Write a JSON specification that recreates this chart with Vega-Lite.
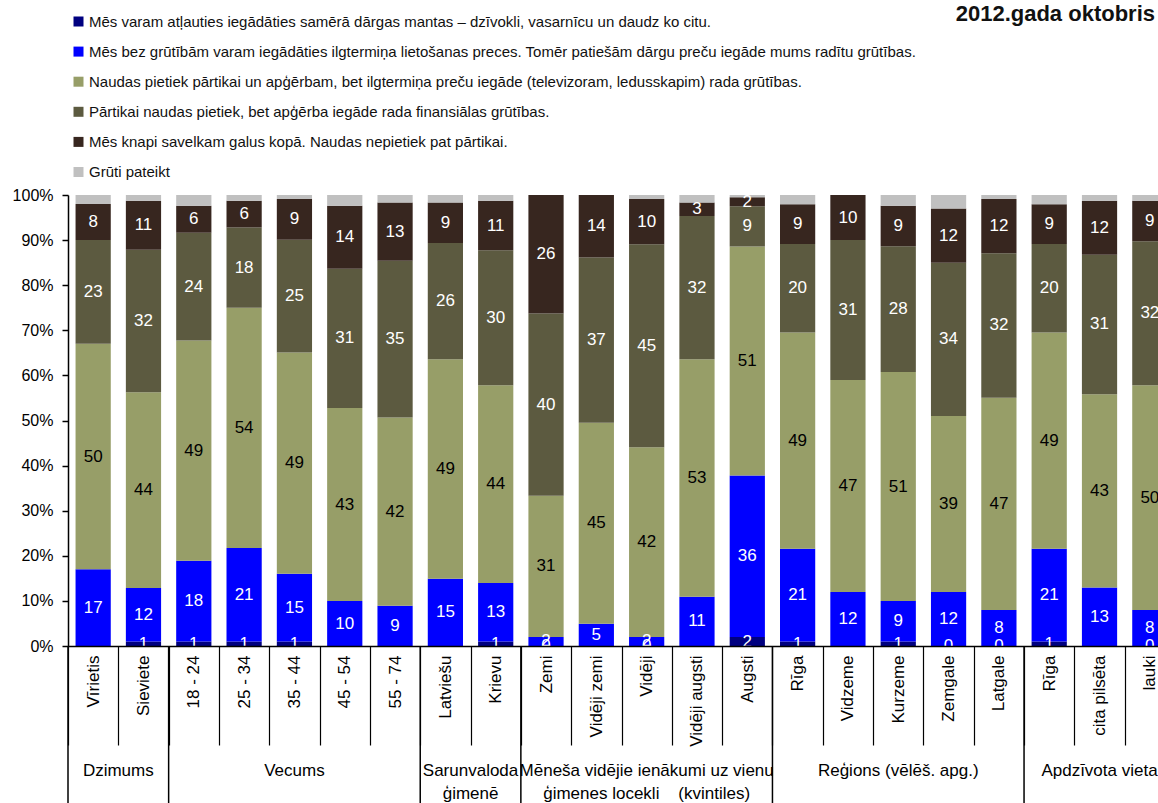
{
  "$schema": "https://vega.github.io/schema/vega-lite/v6.json",
  "width": 1090,
  "height": 451,
  "autosize": {"type": "none"},
  "padding": {"left": 68, "top": 195, "right": 0, "bottom": 157},
  "background": "#ffffff",
  "config": {
    "font": "Liberation Sans",
    "view": {"stroke": null},
    "axis": {"grid": false}
  },
  "title": {"text": "2012.gada oktobris", "orient": "top", "anchor": "end", "frame": "group", "font": "Liberation Sans", "fontSize": 22, "fontWeight": "bold", "color": "#111111", "baseline": "alphabetic", "offset": -29, "dx": -3},
  "datasets": {
    "series": [
      {"k": 1, "name": "Mēs varam atļauties iegādāties samērā dārgas mantas – dzīvokli, vasarnīcu un daudz ko citu."},
      {"k": 2, "name": "Mēs bez grūtībām varam iegādāties ilgtermiņa lietošanas preces. Tomēr patiešām dārgu preču iegāde mums radītu grūtības."},
      {"k": 3, "name": "Naudas pietiek pārtikai un apģērbam, bet ilgtermiņa preču iegāde (televizoram, ledusskapim) rada grūtības."},
      {"k": 4, "name": "Pārtikai naudas pietiek, bet apģērba iegāde rada finansiālas grūtības."},
      {"k": 5, "name": "Mēs knapi savelkam galus kopā. Naudas nepietiek pat pārtikai."},
      {"k": 6, "name": "Grūti pateikt"}
    ],
    "bars": [
      {"c": "Vīrietis", "k": 2, "v": 17}, {"c": "Vīrietis", "k": 3, "v": 50}, {"c": "Vīrietis", "k": 4, "v": 23}, {"c": "Vīrietis", "k": 5, "v": 8}, {"c": "Vīrietis", "k": 6, "v": 2},
      {"c": "Sieviete", "k": 1, "v": 1}, {"c": "Sieviete", "k": 2, "v": 12}, {"c": "Sieviete", "k": 3, "v": 44}, {"c": "Sieviete", "k": 4, "v": 32}, {"c": "Sieviete", "k": 5, "v": 11}, {"c": "Sieviete", "k": 6, "v": 1.3},
      {"c": "18 - 24", "k": 1, "v": 1}, {"c": "18 - 24", "k": 2, "v": 18}, {"c": "18 - 24", "k": 3, "v": 49}, {"c": "18 - 24", "k": 4, "v": 24}, {"c": "18 - 24", "k": 5, "v": 6}, {"c": "18 - 24", "k": 6, "v": 2.4},
      {"c": "25 - 34", "k": 1, "v": 1}, {"c": "25 - 34", "k": 2, "v": 21}, {"c": "25 - 34", "k": 3, "v": 54}, {"c": "25 - 34", "k": 4, "v": 18}, {"c": "25 - 34", "k": 5, "v": 6}, {"c": "25 - 34", "k": 6, "v": 1.3},
      {"c": "35 - 44", "k": 1, "v": 1}, {"c": "35 - 44", "k": 2, "v": 15}, {"c": "35 - 44", "k": 3, "v": 49}, {"c": "35 - 44", "k": 4, "v": 25}, {"c": "35 - 44", "k": 5, "v": 9}, {"c": "35 - 44", "k": 6, "v": 0.9},
      {"c": "45 - 54", "k": 2, "v": 10}, {"c": "45 - 54", "k": 3, "v": 43}, {"c": "45 - 54", "k": 4, "v": 31}, {"c": "45 - 54", "k": 5, "v": 14}, {"c": "45 - 54", "k": 6, "v": 2.4},
      {"c": "55 - 74", "k": 2, "v": 9}, {"c": "55 - 74", "k": 3, "v": 42}, {"c": "55 - 74", "k": 4, "v": 35}, {"c": "55 - 74", "k": 5, "v": 13}, {"c": "55 - 74", "k": 6, "v": 1.7},
      {"c": "Latviešu", "k": 2, "v": 15}, {"c": "Latviešu", "k": 3, "v": 49}, {"c": "Latviešu", "k": 4, "v": 26}, {"c": "Latviešu", "k": 5, "v": 9}, {"c": "Latviešu", "k": 6, "v": 1.7},
      {"c": "Krievu", "k": 1, "v": 1}, {"c": "Krievu", "k": 2, "v": 13}, {"c": "Krievu", "k": 3, "v": 44}, {"c": "Krievu", "k": 4, "v": 30}, {"c": "Krievu", "k": 5, "v": 11}, {"c": "Krievu", "k": 6, "v": 1.3},
      {"c": "Zemi", "k": 1, "v": 0}, {"c": "Zemi", "k": 2, "v": 2}, {"c": "Zemi", "k": 3, "v": 31}, {"c": "Zemi", "k": 4, "v": 40}, {"c": "Zemi", "k": 5, "v": 26}, {"c": "Zemi", "k": 6, "v": 0},
      {"c": "Vidēji zemi", "k": 2, "v": 5}, {"c": "Vidēji zemi", "k": 3, "v": 45}, {"c": "Vidēji zemi", "k": 4, "v": 37}, {"c": "Vidēji zemi", "k": 5, "v": 14}, {"c": "Vidēji zemi", "k": 6, "v": 0},
      {"c": "Vidēji", "k": 1, "v": 0}, {"c": "Vidēji", "k": 2, "v": 2}, {"c": "Vidēji", "k": 3, "v": 42}, {"c": "Vidēji", "k": 4, "v": 45}, {"c": "Vidēji", "k": 5, "v": 10}, {"c": "Vidēji", "k": 6, "v": 0.9},
      {"c": "Vidēji augsti", "k": 2, "v": 11}, {"c": "Vidēji augsti", "k": 3, "v": 53}, {"c": "Vidēji augsti", "k": 4, "v": 32}, {"c": "Vidēji augsti", "k": 5, "v": 3}, {"c": "Vidēji augsti", "k": 6, "v": 1.7},
      {"c": "Augsti", "k": 1, "v": 2}, {"c": "Augsti", "k": 2, "v": 36}, {"c": "Augsti", "k": 3, "v": 51}, {"c": "Augsti", "k": 4, "v": 9}, {"c": "Augsti", "k": 5, "v": 2}, {"c": "Augsti", "k": 6, "v": 0.5},
      {"c": "Rīga", "k": 1, "v": 1}, {"c": "Rīga", "k": 2, "v": 21}, {"c": "Rīga", "k": 3, "v": 49}, {"c": "Rīga", "k": 4, "v": 20}, {"c": "Rīga", "k": 5, "v": 9}, {"c": "Rīga", "k": 6, "v": 2.1},
      {"c": "Vidzeme", "k": 2, "v": 12}, {"c": "Vidzeme", "k": 3, "v": 47}, {"c": "Vidzeme", "k": 4, "v": 31}, {"c": "Vidzeme", "k": 5, "v": 10}, {"c": "Vidzeme", "k": 6, "v": 0},
      {"c": "Kurzeme", "k": 1, "v": 1}, {"c": "Kurzeme", "k": 2, "v": 9}, {"c": "Kurzeme", "k": 3, "v": 51}, {"c": "Kurzeme", "k": 4, "v": 28}, {"c": "Kurzeme", "k": 5, "v": 9}, {"c": "Kurzeme", "k": 6, "v": 2.4},
      {"c": "Zemgale", "k": 1, "v": 0}, {"c": "Zemgale", "k": 2, "v": 12}, {"c": "Zemgale", "k": 3, "v": 39}, {"c": "Zemgale", "k": 4, "v": 34}, {"c": "Zemgale", "k": 5, "v": 12}, {"c": "Zemgale", "k": 6, "v": 3},
      {"c": "Latgale", "k": 1, "v": 0}, {"c": "Latgale", "k": 2, "v": 8}, {"c": "Latgale", "k": 3, "v": 47}, {"c": "Latgale", "k": 4, "v": 32}, {"c": "Latgale", "k": 5, "v": 12}, {"c": "Latgale", "k": 6, "v": 0.9},
      {"c": "Rīga\u200b", "k": 1, "v": 1}, {"c": "Rīga\u200b", "k": 2, "v": 21}, {"c": "Rīga\u200b", "k": 3, "v": 49}, {"c": "Rīga\u200b", "k": 4, "v": 20}, {"c": "Rīga\u200b", "k": 5, "v": 9}, {"c": "Rīga\u200b", "k": 6, "v": 2.1},
      {"c": "cita pilsēta", "k": 2, "v": 13}, {"c": "cita pilsēta", "k": 3, "v": 43}, {"c": "cita pilsēta", "k": 4, "v": 31}, {"c": "cita pilsēta", "k": 5, "v": 12}, {"c": "cita pilsēta", "k": 6, "v": 1.3},
      {"c": "lauki", "k": 1, "v": 0}, {"c": "lauki", "k": 2, "v": 8}, {"c": "lauki", "k": 3, "v": 50}, {"c": "lauki", "k": 4, "v": 32}, {"c": "lauki", "k": 5, "v": 9}, {"c": "lauki", "k": 6, "v": 1.3}
    ],
    "seps": [
      {"c": "Vīrietis"}, {"c": "18 - 24"}, {"c": "Latviešu"}, {"c": "Zemi"}, {"c": "Rīga"}, {"c": "Rīga\u200b"}
    ],
    "groups": [
      {"c": "Sieviete", "g": "Dzimums", "n": 2},
      {"c": "35 - 44", "g": "Vecums", "n": 5},
      {"c": "Krievu", "g": "Sarunvaloda\nģimenē", "n": 2},
      {"c": "Vidēji", "g": "Mēneša vidējie ienākumi uz vienu\nģimenes locekli\u00a0\u00a0\u00a0\u00a0(kvintiles)", "n": 5},
      {"c": "Kurzeme", "g": "Reģions (vēlēš. apg.)", "n": 5},
      {"c": "cita pilsēta", "g": "Apdzīvota vieta", "n": 3}
    ]
  },
  "layer": [
    {
      "data": {"name": "bars"},
      "transform": [{"lookup": "k", "from": {"data": {"name": "series"}, "key": "k", "fields": ["name"]}}],
      "mark": {"type": "bar", "width": {"band": 0.7}},
      "encoding": {
        "x": {"field": "c", "type": "nominal", "title": null,
          "scale": {"domain": ["Vīrietis","Sieviete","18 - 24","25 - 34","35 - 44","45 - 54","55 - 74","Latviešu","Krievu","Zemi","Vidēji zemi","Vidēji","Vidēji augsti","Augsti","Rīga","Vidzeme","Kurzeme","Zemgale","Latgale","Rīga\u200b","cita pilsēta","lauki"], "range": [0, 1107], "paddingInner": 0, "paddingOuter": 0},
          "axis": {"title": null, "domainColor": "#000000", "domainWidth": 1.5, "tickColor": "#000000", "tickWidth": 1.2, "tickSize": 99, "tickBand": "extent", "labelAngle": -90, "labelAlign": "right", "labelBaseline": "middle", "labelPadding": -90, "labelFontSize": 17, "labelColor": "#000000", "labelLimit": 200, "labelOverlap": false, "zindex": 1}},
        "y": {"field": "v", "type": "quantitative", "stack": "normalize", "title": null, "scale": {"domain": [0, 1]},
          "axis": {"title": null, "format": "%", "values": [0,0.1,0.2,0.3,0.4,0.5,0.6,0.7,0.8,0.9,1], "domainColor": "#000000", "domainWidth": 1.5, "tickColor": "#000000", "tickWidth": 1.5, "tickSize": 6, "labelFontSize": 16, "labelColor": "#000000", "labelPadding": 9, "grid": false, "zindex": 1}},
        "color": {"field": "name", "type": "nominal",
          "scale": {"domain": [
            "Mēs varam atļauties iegādāties samērā dārgas mantas – dzīvokli, vasarnīcu un daudz ko citu.",
            "Mēs bez grūtībām varam iegādāties ilgtermiņa lietošanas preces. Tomēr patiešām dārgu preču iegāde mums radītu grūtības.",
            "Naudas pietiek pārtikai un apģērbam, bet ilgtermiņa preču iegāde (televizoram, ledusskapim) rada grūtības.",
            "Pārtikai naudas pietiek, bet apģērba iegāde rada finansiālas grūtības.",
            "Mēs knapi savelkam galus kopā. Naudas nepietiek pat pārtikai.",
            "Grūti pateikt"], "range": ["#000080", "#0000FF", "#979E68", "#5C5A40", "#37261F", "#C0C0C0"]},
          "legend": {"title": null, "orient": "none", "legendX": 3, "legendY": -181, "symbolType": "square", "symbolSize": 100, "symbolStrokeWidth": 0, "labelFontSize": 15, "labelColor": "#111111", "labelLimit": 1200, "labelOffset": 3, "rowPadding": 14.1, "direction": "vertical"}},
        "order": {"field": "k", "type": "quantitative"}
      }
    },
    {
      "data": {"name": "bars"},
      "transform": [{"lookup": "k", "from": {"data": {"name": "series"}, "key": "k", "fields": ["name"]}}],
      "mark": {"type": "text", "fontSize": 17, "baseline": "middle", "align": "center"},
      "encoding": {
        "x": {"field": "c", "type": "nominal", "title": null,
          "scale": {"domain": ["Vīrietis","Sieviete","18 - 24","25 - 34","35 - 44","45 - 54","55 - 74","Latviešu","Krievu","Zemi","Vidēji zemi","Vidēji","Vidēji augsti","Augsti","Rīga","Vidzeme","Kurzeme","Zemgale","Latgale","Rīga\u200b","cita pilsēta","lauki"], "range": [0, 1107], "paddingInner": 0, "paddingOuter": 0}},
        "y": {"field": "v", "type": "quantitative", "stack": "normalize", "bandPosition": 0.5, "title": null, "scale": {"domain": [0, 1]}},
        "detail": {"field": "name", "type": "nominal"},
        "order": {"field": "k", "type": "quantitative"},
        "text": {"field": "v", "type": "quantitative", "format": ".0f"},
        "color": {"condition": {"test": "datum.k == 3", "value": "#000000"}, "value": "#ffffff"},
        "opacity": {"condition": {"test": "datum.k == 6", "value": 0}, "value": 1}
      }
    },
    {
      "data": {"name": "seps"},
      "mark": {"type": "rule", "color": "#000000", "strokeWidth": 1.5},
      "encoding": {
        "x": {"field": "c", "type": "nominal", "bandPosition": 0, "title": null,
          "scale": {"domain": ["Vīrietis","Sieviete","18 - 24","25 - 34","35 - 44","45 - 54","55 - 74","Latviešu","Krievu","Zemi","Vidēji zemi","Vidēji","Vidēji augsti","Augsti","Rīga","Vidzeme","Kurzeme","Zemgale","Latgale","Rīga\u200b","cita pilsēta","lauki"], "range": [0, 1107], "paddingInner": 0, "paddingOuter": 0}},
        "y": {"datum": 0, "type": "quantitative", "title": null, "scale": {"domain": [0, 1]}},
        "y2": {"datum": -0.4}
      }
    },
    {
      "data": {"name": "groups"},
      "transform": [{"filter": "datum.n % 2 == 1"}],
      "mark": {"type": "text", "fontSize": 17, "baseline": "top", "align": "center", "lineBreak": "\n", "lineHeight": 23, "color": "#000000"},
      "encoding": {
        "x": {"field": "c", "type": "nominal", "bandPosition": 0.5, "title": null,
          "scale": {"domain": ["Vīrietis","Sieviete","18 - 24","25 - 34","35 - 44","45 - 54","55 - 74","Latviešu","Krievu","Zemi","Vidēji zemi","Vidēji","Vidēji augsti","Augsti","Rīga","Vidzeme","Kurzeme","Zemgale","Latgale","Rīga\u200b","cita pilsēta","lauki"], "range": [0, 1107], "paddingInner": 0, "paddingOuter": 0}},
        "y": {"datum": -0.26, "type": "quantitative", "title": null, "scale": {"domain": [0, 1]}},
        "text": {"field": "g", "type": "nominal"}
      }
    },
    {
      "data": {"name": "groups"},
      "transform": [{"filter": "datum.n % 2 == 0"}],
      "mark": {"type": "text", "fontSize": 17, "baseline": "top", "align": "center", "lineBreak": "\n", "lineHeight": 23, "color": "#000000"},
      "encoding": {
        "x": {"field": "c", "type": "nominal", "bandPosition": 0, "title": null,
          "scale": {"domain": ["Vīrietis","Sieviete","18 - 24","25 - 34","35 - 44","45 - 54","55 - 74","Latviešu","Krievu","Zemi","Vidēji zemi","Vidēji","Vidēji augsti","Augsti","Rīga","Vidzeme","Kurzeme","Zemgale","Latgale","Rīga\u200b","cita pilsēta","lauki"], "range": [0, 1107], "paddingInner": 0, "paddingOuter": 0}},
        "y": {"datum": -0.26, "type": "quantitative", "title": null, "scale": {"domain": [0, 1]}},
        "text": {"field": "g", "type": "nominal"}
      }
    }
  ]
}
